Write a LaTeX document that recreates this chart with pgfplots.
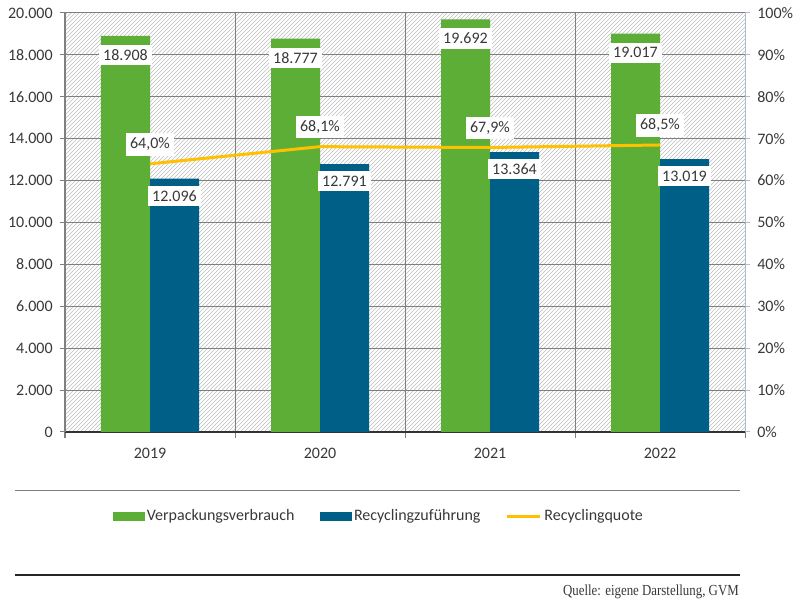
\documentclass[border=0pt]{standalone}
\usepackage{fontspec}
\setmainfont{Carlito}
\newfontfamily\quellefont[FakeStretch=0.84]{Liberation Serif}
\usepackage{pgfplots}
\pgfplotsset{compat=1.18}
\usetikzlibrary{patterns}

\definecolor{cgreen}{HTML}{5DAE36}
\definecolor{cblue}{HTML}{005F86}
\definecolor{corange}{HTML}{FFC000}
\definecolor{cgrid}{HTML}{7F7F7F}
\definecolor{ctext}{HTML}{383838}
\definecolor{caxis2}{HTML}{A9BCD5}

\tikzset{
  lbl/.style={fill=white, text=ctext, font=\fontsize{12}{14}\selectfont,
    inner xsep=3pt, inner ysep=3.6pt},
}
\pgfplotsset{
  chartbase/.style={
    scale only axis, width=510pt, height=314.25pt,
    at={(48.75pt,126pt)}, anchor=south west,
    xmin=-0.5, xmax=3.5,
    tick align=outside,
    scaled y ticks=false,
    ticklabel style={font=\fontsize{12}{14}\selectfont, text=ctext},
    /pgf/number format/use comma,
    /pgf/number format/assume math mode=true,
  },
}

\begin{document}
\begin{tikzpicture}
\useasboundingbox (0,0) rectangle (600pt,450pt);

% Mengen in kt
\begin{axis}[chartbase,
  ymin=0, ymax=20000, ytick={0,2000,...,20000},
  axis x line*=bottom, axis y line*=left,
  axis background/.style={preaction={fill=white}, pattern=north east lines, pattern color=black!25},
  ybar, bar width=36.75pt,
  xtick={0,1,2,3}, xticklabels={2019,2020,2021,2022},
  every major x tick/.append style={draw=none},
  minor xtick={-0.5,0.5,1.5,2.5,3.5},
  ymajorgrids, xminorgrids,
  major grid style={cgrid, line width=0.75pt},
  minor grid style={cgrid, line width=0.75pt},
  major tick length=3.75pt, minor tick length=4.5pt,
  ytick style={cgrid, line width=0.75pt},
  every minor x tick/.append style={cgrid, line width=0.75pt},
  y axis line style={cgrid, line width=0.75pt},
  x axis line style={black!80, line width=1.2pt},
  xticklabel style={yshift=-5pt},
  yticklabel style={xshift=-2pt},
  legend style={at={(0.462,-0.2005)}, anchor=center, draw=none, fill=none,
    font=\fontsize{12}{14}\selectfont, text=ctext,
    /tikz/every even column/.append style={column sep=17pt}},
  legend columns=3, legend cell align=left,
]
\addplot[fill=cgreen, draw=none, bar shift=-18.375pt, forget plot,
  nodes near coords, every node near coord/.append style={lbl, anchor=north, yshift=-6.5pt}]
  coordinates {(0,18908) (1,18777) (2,19692) (3,19017)};
\addplot[fill=cblue, draw=none, bar shift=18.375pt, forget plot,
  nodes near coords, every node near coord/.append style={lbl, anchor=north, yshift=-5pt}]
  coordinates {(0,12096) (1,12791) (2,13364) (3,13019)};

\addlegendimage{legend image code/.code={\fill[cgreen] (0pt,-3pt) rectangle (23.25pt,3pt);}}
\addlegendentry{Verpackungsverbrauch}
\addlegendimage{legend image code/.code={\fill[cblue] (0pt,-3pt) rectangle (23.25pt,3pt);}}
\addlegendentry{Recyclingzuführung}
\addlegendimage{legend image code/.code={\draw[corange, line width=2.25pt] (0pt,0pt) -- (24.75pt,0pt);}}
\addlegendentry{Recyclingquote}
\end{axis}

% Quote in Prozent
\begin{axis}[chartbase,
  ymin=0, ymax=100, ytick={0,10,...,100},
  yticklabel={\pgfmathprintnumber{\tick}\%},
  axis y line*=right, axis x line=none, xtick=\empty,
  y axis line style={caxis2, line width=0.75pt},
  ytick style={caxis2, line width=0.75pt},
  major tick length=3.75pt,
  yticklabel style={xshift=2pt},
]
\addplot[corange, line width=2.25pt, mark=none,
  nodes near coords={\pgfmathprintnumber[fixed,fixed zerofill,precision=1]{\pgfplotspointmeta}\%},
  every node near coord/.append style={lbl, anchor=south, yshift=5pt}]
  coordinates {(0,64.0) (1,68.1) (2,67.9) (3,68.5)};
\end{axis}

\draw[cgrid, line width=0.75pt] (11.25pt,81.75pt) -- (555pt,81.75pt);
\draw[black!85, line width=1.5pt] (11.25pt,18.75pt) -- (555pt,18.75pt);
\node[anchor=east, text=ctext, inner sep=0pt, font=\quellefont\fontsize{11.5}{13}\selectfont]
  at (554.25pt,6pt) {Quelle: eigene Darstellung, GVM};
\end{tikzpicture}
\end{document}
